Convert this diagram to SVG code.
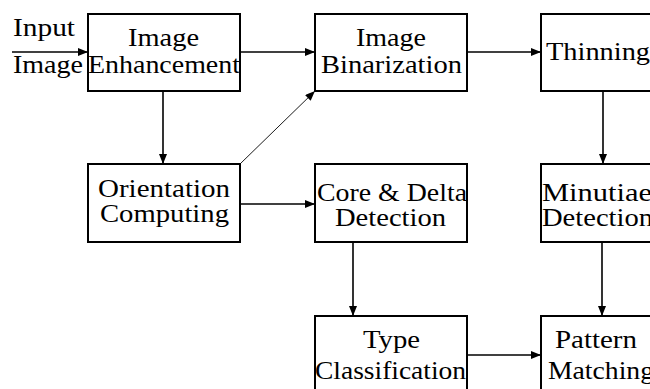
<svg xmlns="http://www.w3.org/2000/svg" width="650" height="389" viewBox="0 0 650 389">
  <defs>
    <marker id="arrow" viewBox="0 0 10 8" refX="10" refY="4" markerWidth="10" markerHeight="8" markerUnits="userSpaceOnUse" orient="auto">
      <path d="M0,0 L10,4 L0,8 Z" fill="#000"/>
    </marker>
  </defs>
  <style>
    .box { fill: #fff; stroke: #000; stroke-width: 2; }
    .lbl { font-family: "Liberation Serif", "Times New Roman", serif; font-size: 25px; fill: #000; }
    .edge { fill: none; stroke: #000; stroke-width: 1.6; marker-end: url(#arrow); }
    .thin { stroke-width: 0.9; }
  </style>
  <rect width="650" height="389" fill="#fff"/>

  <g id="connectors">
    <line class="edge" x1="12" y1="52" x2="88" y2="52"/>
    <line class="edge" x1="240" y1="52" x2="315" y2="52"/>
    <line class="edge" x1="467" y1="52" x2="541" y2="52"/>
    <line class="edge" x1="163" y1="91" x2="163" y2="164"/>
    <line class="edge thin" x1="240" y1="164" x2="315" y2="91"/>
    <line class="edge" x1="240" y1="204" x2="315" y2="204"/>
    <line class="edge" x1="603" y1="91" x2="603" y2="164"/>
    <line class="edge" x1="353" y1="242" x2="353" y2="316"/>
    <line class="edge" x1="602" y1="242" x2="602" y2="316"/>
    <line class="edge" x1="467" y1="355" x2="541" y2="355"/>
  </g>

  <g id="input-label">
    <text class="lbl" x="13" y="36" textLength="62" lengthAdjust="spacingAndGlyphs">Input</text>
    <text class="lbl" x="13" y="73" textLength="70" lengthAdjust="spacingAndGlyphs">Image</text>
  </g>

  <g id="enhancement">
    <rect class="box" x="88" y="14" width="152" height="77"/>
    <text class="lbl" x="128" y="46" textLength="71" lengthAdjust="spacingAndGlyphs">Image</text>
    <text class="lbl" x="88" y="73" textLength="152" lengthAdjust="spacingAndGlyphs">Enhancement</text>
  </g>

  <g id="binarization">
    <rect class="box" x="315" y="14" width="152" height="77"/>
    <text class="lbl" x="356" y="46" textLength="70" lengthAdjust="spacingAndGlyphs">Image</text>
    <text class="lbl" x="321" y="73" textLength="141" lengthAdjust="spacingAndGlyphs">Binarization</text>
  </g>

  <g id="thinning">
    <rect class="box" x="541" y="14" width="152" height="77"/>
    <text class="lbl" x="546" y="60" textLength="104" lengthAdjust="spacingAndGlyphs">Thinning</text>
  </g>

  <g id="orientation">
    <rect class="box" x="88" y="164" width="152" height="78"/>
    <text class="lbl" x="98" y="197" textLength="132" lengthAdjust="spacingAndGlyphs">Orientation</text>
    <text class="lbl" x="100" y="222" textLength="129" lengthAdjust="spacingAndGlyphs">Computing</text>
  </g>

  <g id="core-delta">
    <rect class="box" x="315" y="164" width="152" height="78"/>
    <text class="lbl" x="317" y="201" textLength="150" lengthAdjust="spacingAndGlyphs">Core &amp; Delta</text>
    <text class="lbl" x="335" y="226" textLength="111" lengthAdjust="spacingAndGlyphs">Detection</text>
  </g>

  <g id="minutiae">
    <rect class="box" x="541" y="164" width="152" height="78"/>
    <text class="lbl" x="542" y="201" textLength="110" lengthAdjust="spacingAndGlyphs">Minutiae</text>
    <text class="lbl" x="542" y="226" textLength="111" lengthAdjust="spacingAndGlyphs">Detection</text>
  </g>

  <g id="type-classification">
    <rect class="box" x="315" y="316" width="152" height="78"/>
    <text class="lbl" x="363" y="348" textLength="57" lengthAdjust="spacingAndGlyphs">Type</text>
    <text class="lbl" x="315" y="379" textLength="151" lengthAdjust="spacingAndGlyphs">Classification</text>
  </g>

  <g id="pattern-matching">
    <rect class="box" x="541" y="316" width="152" height="78"/>
    <text class="lbl" x="555" y="348" textLength="82" lengthAdjust="spacingAndGlyphs">Pattern</text>
    <text class="lbl" x="548" y="379" textLength="106" lengthAdjust="spacingAndGlyphs">Matching</text>
  </g>
</svg>
